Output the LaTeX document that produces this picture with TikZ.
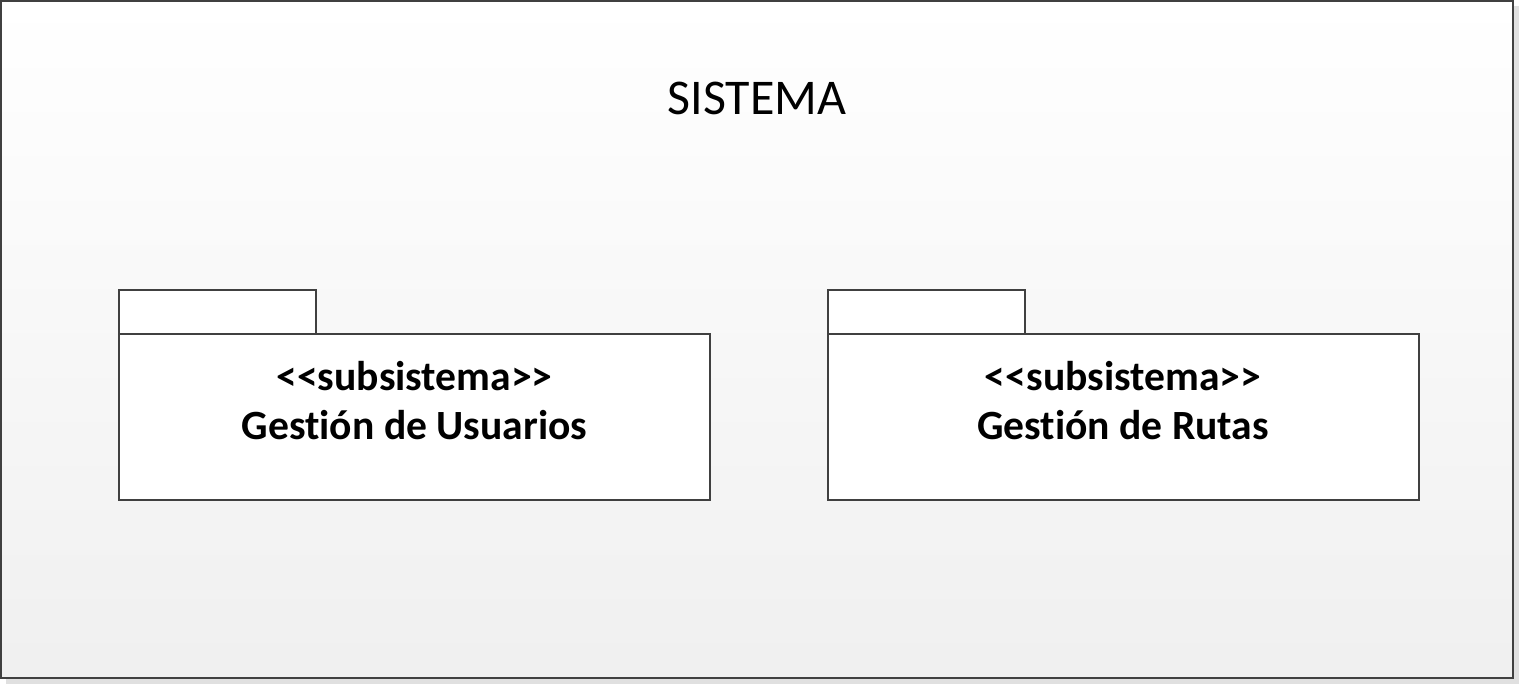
\documentclass[tikz,border=0pt]{standalone}
\usepackage{fontspec}
\setmainfont{Carlito}[Ligatures=NoCommon]
\usetikzlibrary{positioning}

\begin{document}
\begin{tikzpicture}[x=0.5pt,y=-0.5pt,line width=1pt,
        frame/.style={draw=black!75,top color=white,bottom color=black!6},
        body node/.style={rectangle,draw=black!75,fill=white,minimum width=295.5pt,minimum height=83pt,inner sep=0pt,outer sep=0pt},
        tab node/.style={rectangle,draw=black!75,fill=white,minimum width=98.5pt,minimum height=22pt,inner sep=0pt,outer sep=0pt},
        pkg text/.style={align=center,font=\fontsize{20.8}{24.5}\selectfont\bfseries}]
        \useasboundingbox (0,0) rectangle (1520,685);
        % shadow and frame
        \fill[black!12] (6,6) rectangle (1519,684);
        \shade[frame] (1,1) rectangle (1513,678);
        \draw[black!75] (1,1) rectangle (1513,678);
        \node[font=\fontsize{25}{30}\selectfont] (sys) at (757,98) {SISTEMA};
        % packages
        \node[body node] (usuarios) at (414.5,417) {};
        \node[tab node, above right=0pt of usuarios.north west] (tab1) {};
        \node[pkg text] (usuariosText) at ([yshift=8pt]usuarios.center) {{<}{<}subsistema{>}{>}\\Gestión de Usuarios};
        \node[body node] (rutas) at (1123,417) {};
        \node[tab node, above right=0pt of rutas.north west] (tab2) {};
        \node[pkg text] (rutasText) at ([yshift=8pt]rutas.center) {{<}{<}subsistema{>}{>}\\Gestión de Rutas};
\end{tikzpicture}
\end{document}
